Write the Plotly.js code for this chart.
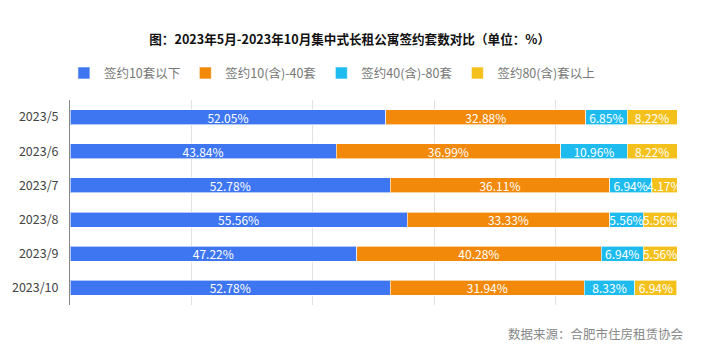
<!DOCTYPE html>
<html>
<head>
<meta charset="utf-8">
<script src="https://cdn.plot.ly/plotly-3.0.1.min.js"></script>
<style>html,body{margin:0;padding:0;background:#fff;}#chart{width:718px;height:359px;}</style>
</head>
<body>
<div id="chart"></div>
<script>
const categories = ["2023/5", "2023/6", "2023/7", "2023/8", "2023/9", "2023/10"];
const seriesNames = ["签约10套以下", "签约10(含)-40套", "签约40(含)-80套", "签约80(含)套以上"];
const below10 = [52.05, 43.84, 52.78, 55.56, 47.22, 52.78];
const from10to40 = [32.88, 36.99, 36.11, 33.33, 40.28, 31.94];
const from40to80 = [6.85, 10.96, 6.94, 5.56, 6.94, 8.33];
const above80 = [8.22, 8.22, 4.17, 5.56, 5.56, 6.94];
const colors = ["#3D76F0", "#F2890A", "#1EBBEF", "#F4C11C"];
const titleText = "图：2023年5月-2023年10月集中式长租公寓签约套数对比（单位：%）";
const sourceText = "数据来源：合肥市住房租赁协会";

const font = "Noto Sans CJK SC, Noto Sans, sans-serif";
const allSeries = [below10, from10to40, from40to80, above80];
const traces = allSeries.map((vals, i) => ({
  type: "bar",
  orientation: "h",
  name: seriesNames[i],
  y: categories,
  x: vals,
  text: vals.map(v => v.toFixed(2) + "%"),
  textposition: "inside",
  insidetextanchor: "middle",
  constraintext: "none",
  textfont: {color: "#ffffff", size: 12, family: font},
  marker: {color: colors[i], line: {color: "rgba(255,255,255,0.6)", width: 1}},
  hoverinfo: "none"
}));

const layout = {
  width: 718, height: 359,
  margin: {l: 70, r: 41, t: 100, b: 54},
  barmode: "stack",
  bargap: 0.56,
  paper_bgcolor: "#fff",
  plot_bgcolor: "#fff",
  font: {family: font, size: 12, color: "#333"},
  title: {text: "<b>" + titleText + "</b>", x: 0.487, xanchor: "center", y: 0.891, yanchor: "middle",
          font: {family: font, size: 12.6, color: "#111"}},
  showlegend: true,
  legend: {orientation: "h", x: -0.01, xanchor: "left", y: 1.13, yanchor: "middle",
           font: {family: font, size: 12.5, color: "#777"}, itemwidth: 30, traceorder: "normal"},
  xaxis: {range: [0, 100], dtick: 20, showticklabels: false, showgrid: true, gridcolor: "#e2e2e2",
          zeroline: false, fixedrange: true},
  yaxis: {categoryorder: "array", categoryarray: categories, autorange: "reversed",
          showline: true, linecolor: "#888", linewidth: 1, ticks: "", ticklabelstandoff: 8,
          tickfont: {family: font, size: 12.5, color: "#444"}, showgrid: false},
  annotations: [{text: sourceText, xref: "paper", yref: "paper", x: 1.015, y: -0.14,
                 xanchor: "right", yanchor: "middle", showarrow: false,
                 font: {family: font, size: 12.5, color: "#888"}}]
};

Plotly.newPlot("chart", traces, layout, {displayModeBar: false, staticPlot: true});
</script>
</body>
</html>
